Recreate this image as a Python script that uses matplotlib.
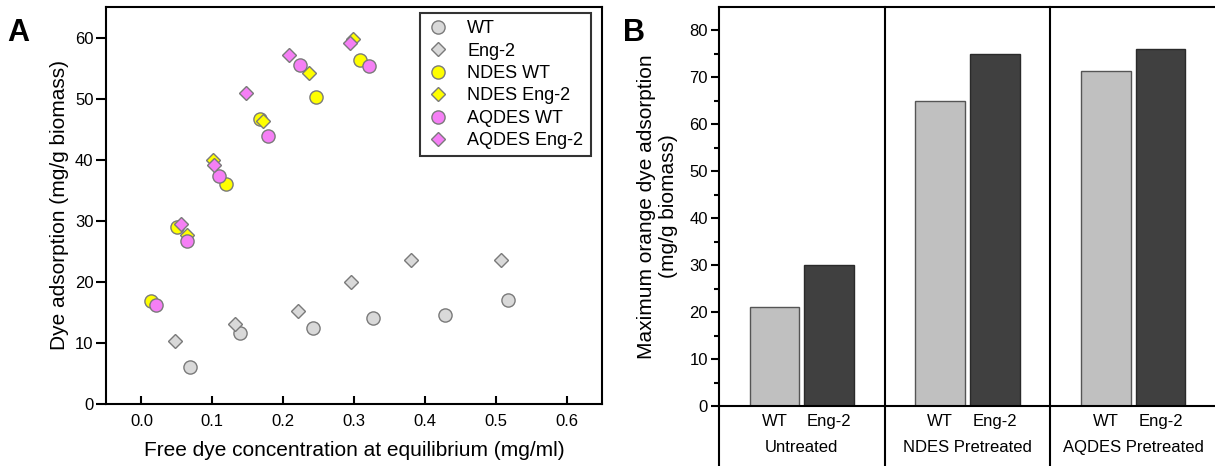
import numpy as np
import matplotlib
matplotlib.use("Agg")
import matplotlib.pyplot as plt

plt.rcParams['font.family'] = ['Liberation Sans', 'DejaVu Sans']

# panel A: adsorption isotherm points
wt_x = [0.069, 0.139, 0.242, 0.327, 0.429, 0.517]
wt_y = [6.1, 11.6, 12.4, 14.0, 14.6, 17.1]
eng_x = [0.047, 0.132, 0.221, 0.296, 0.380, 0.507]
eng_y = [10.3, 13.1, 15.2, 20.0, 23.5, 23.5]
ndes_wt_x = [0.014, 0.050, 0.120, 0.167, 0.247, 0.309]
ndes_wt_y = [16.8, 28.9, 36.1, 46.7, 50.2, 56.4]
ndes_eng_x = [0.065, 0.101, 0.172, 0.236, 0.299]
ndes_eng_y = [27.7, 40.0, 46.4, 54.2, 59.8]
aq_wt_x = [0.020, 0.064, 0.110, 0.178, 0.224, 0.321]
aq_wt_y = [16.2, 26.7, 37.3, 43.8, 55.5, 55.4]
aq_eng_x = [0.056, 0.103, 0.147, 0.208, 0.294]
aq_eng_y = [29.4, 39.2, 51.0, 57.2, 59.1]

# panel B: maximum adsorption
groups = ['Untreated', 'NDES Pretreated', 'AQDES Pretreated']
strains = ['WT', 'Eng-2']
wt_max = [21.1, 65.0, 71.3]
eng_max = [30.0, 75.0, 76.0]

W, H = 1215, 466
fig = plt.figure(figsize=(W / 100, H / 100), dpi=100)

# ---------------- A ----------------
axA = fig.add_axes([106 / W, 1 - 404 / H, 496 / W, 397 / H])
gray, yellow, pink = '#d9d9d9', '#ffff00', '#f57ff5'
edge = '#7a7a7a'
series = [
    (wt_x, wt_y, 'o', gray, 'WT'),
    (eng_x, eng_y, 'D', gray, 'Eng-2'),
    (ndes_wt_x, ndes_wt_y, 'o', yellow, 'NDES WT'),
    (ndes_eng_x, ndes_eng_y, 'D', yellow, 'NDES Eng-2'),
    (aq_wt_x, aq_wt_y, 'o', pink, 'AQDES WT'),
    (aq_eng_x, aq_eng_y, 'D', pink, 'AQDES Eng-2'),
]
for x, y, m, c, lab in series:
    ms = 9.5 if m == 'o' else 7
    axA.plot(x, y, linestyle='none', marker=m, ms=ms, mfc=c, mec=edge,
             mew=1.0, label=lab)

axA.set_xlim(-0.05, 0.65)
axA.set_ylim(0, 65)
axA.set_xticks(np.arange(0, 0.61, 0.1))
axA.set_yticks(np.arange(0, 61, 10))
axA.xaxis.set_major_formatter(matplotlib.ticker.FormatStrFormatter('%.1f'))
axA.tick_params(axis='x', direction='in', length=6, width=1.5, labelsize=12, pad=7)
axA.tick_params(axis='y', direction='out', length=7, width=1.5, labelsize=12, pad=2)
for s in axA.spines.values():
    s.set_linewidth(1.5)
axA.set_xlabel('Free dye concentration at equilibrium (mg/ml)', fontsize=15, labelpad=9)
axA.set_ylabel('Dye adsorption (mg/g biomass)', fontsize=15, labelpad=4)
leg = axA.legend(loc='upper right', bbox_to_anchor=(0.977, 0.985), fontsize=13,
                 frameon=True, fancybox=False, edgecolor='black',
                 labelspacing=0.3, handlelength=1.2, handletextpad=1.0,
                 borderpad=0.4, borderaxespad=0)
leg.get_frame().set_linewidth(1.5)
fig.text(18 / W, 1 - 33 / H, 'A', fontsize=22, fontweight='bold', ha='center', va='center')

# ---------------- B ----------------
axB = fig.add_axes([719 / W, 1 - 406 / H, 497 / W, 399 / H])
pos = np.arange(len(groups))
bw = 0.30
off = 0.165
axB.bar(pos - off, wt_max, bw, color='#c0c0c0', edgecolor='#555555', linewidth=1.0)
axB.bar(pos + off, eng_max, bw, color='#404040', edgecolor='#2a2a2a', linewidth=1.0)
axB.set_xlim(-0.5, 2.5)
axB.set_ylim(0, 85)
axB.set_yticks(np.arange(0, 81, 10))
axB.set_yticks(np.arange(5, 81, 10), minor=True)
axB.tick_params(axis='y', which='major', direction='out', length=6, width=1.5, labelsize=12, pad=2)
axB.tick_params(axis='y', which='minor', direction='out', length=3.5, width=1.5)
axB.set_xticks([])
axB.spines['right'].set_visible(False)
for s in ['left', 'top', 'bottom']:
    axB.spines[s].set_linewidth(1.5)
axB.set_ylabel('Maximum orange dye adsorption\n(mg/g biomass)', fontsize=15,
               labelpad=8, linespacing=1.2)

tr = axB.get_xaxis_transform()
for i, g in enumerate(groups):
    axB.text(i - off, -0.04, strains[0], transform=tr, ha='center', va='center', fontsize=12)
    axB.text(i + off, -0.04, strains[1], transform=tr, ha='center', va='center', fontsize=12)
    axB.text(i, -0.103, g, transform=tr, ha='center', va='center', fontsize=12)
for xd in [0.5, 1.5]:
    axB.plot([xd, xd], [1, -0.16], transform=tr, color='black', lw=1.5, clip_on=False)
# extend left spine below the axis
axB.plot([-0.5, -0.5], [0, -0.16], transform=tr, color='black', lw=1.5, clip_on=False)
fig.text(634 / W, 1 - 33 / H, 'B', fontsize=22, fontweight='bold', ha='center', va='center')

fig.savefig('out.png', dpi=100)
